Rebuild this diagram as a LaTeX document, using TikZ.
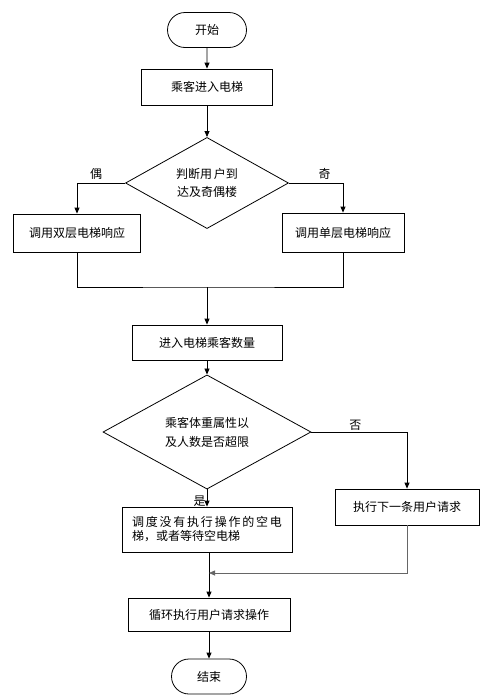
\documentclass[tikz,border=0pt]{standalone}
\usepackage{fontspec}
\newfontfamily\cjk{Noto Sans CJK SC}
\usetikzlibrary{positioning, shapes, shapes.geometric, shapes.misc, arrows.meta}
\tikzset{flowpic/.style={x=1pt, y=-1pt, line width=0.8pt, font=\cjk\fontsize{12}{15}\selectfont}}
\tikzset{pbox/.style={draw, rectangle, inner sep=0pt, align=center}}
\tikzset{term/.style={draw, rounded rectangle, inner sep=0pt}}
\tikzset{decis/.style={draw, diamond, inner sep=0pt, align=center}}
\tikzset{arr/.style={draw, -{Triangle[length=6pt, width=5pt]}}}
\tikzset{lbl/.style={inner sep=1pt}}

\begin{document}
\begin{tikzpicture}[flowpic]
	\useasboundingbox (0,0) rectangle (499,699);
	\node[term, minimum width=79pt, minimum height=35pt] (start) at (207,30) {开始};
	\node[pbox, minimum width=131pt, minimum height=36pt] (enter) at (207,87) {乘客进入电梯};
	\node[decis, minimum width=163pt, minimum height=87pt] (floor) at (207,183) {判断用\,户到\\[3pt]达及奇偶楼};
	\node[pbox, minimum width=127pt, minimum height=38pt] (dbl) at (77,233) {调用双层电梯响应};
	\node[pbox, minimum width=122pt, minimum height=39pt] (sgl) at (343,232.5) {调用单层电梯响应};
	\node[pbox, minimum width=150pt, minimum height=35pt] (count) at (207,342.5) {进入电梯乘客数量};
	\node[decis, minimum width=208pt, minimum height=84pt] (limit) at (207,432) {乘客体重属性以\\[4pt]及人数是否超限};
	\node[pbox, minimum width=170pt, minimum height=45pt, align=left] (dispatch) at (207,529.5)
		{\addfontfeatures{LetterSpace=15}调度没有执行操作的空电\\[-1pt]梯，或者等待空电梯};
	\node[pbox, minimum width=144pt, minimum height=36pt] (next) at (407,507) {执行下一条用户请求};
	\node[pbox, minimum width=162pt, minimum height=33pt] (loop) at (209,614.5) {循环执行用户请求操作};
	\node[term, minimum width=75pt, minimum height=35pt] (stop) at (209,676.5) {结束};
	\coordinate (join) at (207,287);
	\coordinate (merge) at (209,573);
	%
	\draw[arr] (start) -- (enter);
	\draw[arr] (enter) -- (floor);
	\draw[arr] (floor.west) -| node[lbl, pos=0.3, above=2pt]{偶} (dbl);
	\draw[arr] (floor.east) -| node[lbl, pos=0.33, above=2pt]{奇} (sgl);
	\draw (dbl.south) |- (join) -| (sgl.south);
	\draw[arr] (join) -- (count);
	\draw[arr] (count) -- (limit);
	\draw[arr] (limit) -- node[lbl, pos=0.66, left]{是} (dispatch);
	\draw[arr] (limit.east) -| node[lbl, pos=0.23, above]{否} (next);
	\draw[arr] (dispatch.south -| loop) -- (loop);
	\draw[arr, black!60] (next) |- (merge);
	\draw[arr] (loop) -- (stop);
\end{tikzpicture}
\end{document}
